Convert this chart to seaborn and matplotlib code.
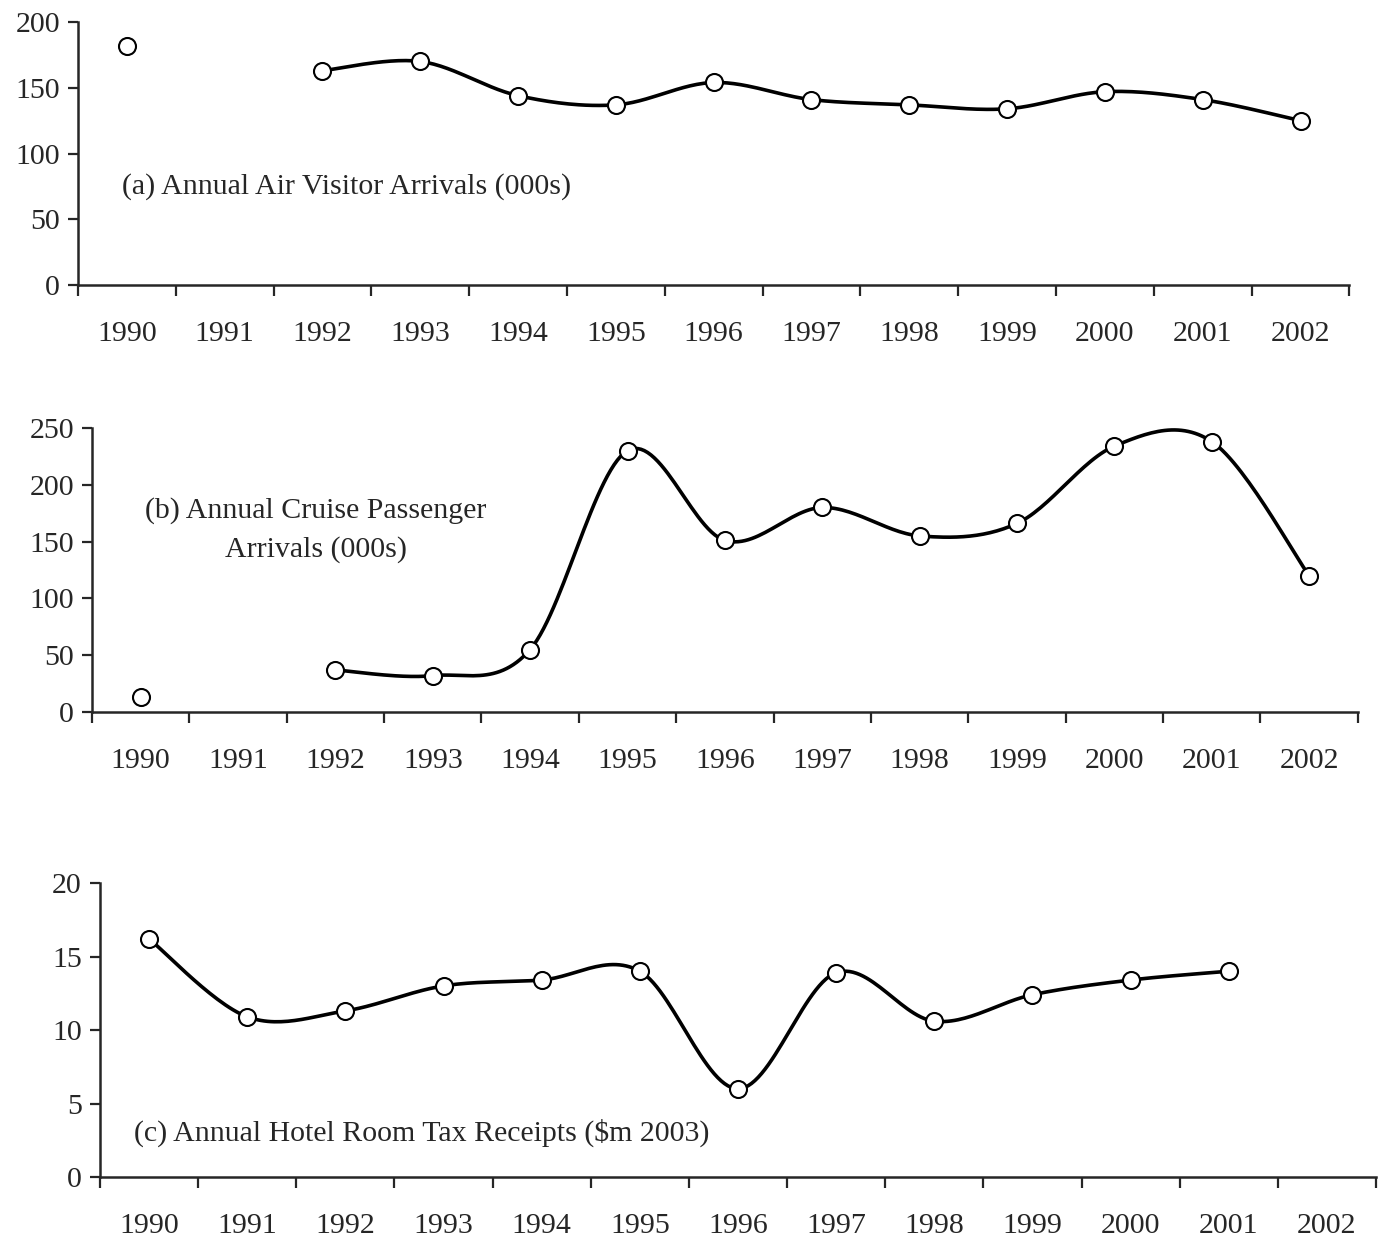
import numpy as np
import pandas as pd
import matplotlib
matplotlib.use("Agg")
import matplotlib.pyplot as plt
import seaborn as sns

# values (NaN = no point for that year)
years = [1990, 1991, 1992, 1993, 1994, 1995, 1996, 1997, 1998, 1999, 2000, 2001, 2002]
air_arrivals = [182, np.nan, 163, 170, 144, 137, 154, 141, 137, 134, 147, 141, 125]
cruise_arrivals = [13, np.nan, 37, 32, 55, 230, 151, 180, 155, 166, 234, 238, 120]
hotel_tax = [16.2, 10.9, 11.3, 13.0, 13.4, 14.0, 6.0, 13.9, 10.6, 12.4, 13.4, 14.0, np.nan]

labels = ["(a) Annual Air Visitor Arrivals (000s)",
          "(b) Annual Cruise Passenger\nArrivals (000s)",
          "(c) Annual Hotel Room Tax Receipts ($m 2003)"]

sns.set_style("ticks")
plt.rcParams['font.family'] = ['Liberation Serif', 'DejaVu Serif']
plt.rcParams['text.parse_math'] = False

FS = 21.5


def smooth(xs, ys, n=30):
    # excel-like smoothed line: bezier through points, catmull-rom control points
    px, py = [], []
    m = len(xs)
    for i in range(m - 1):
        x0, y0 = xs[max(i - 1, 0)], ys[max(i - 1, 0)]
        x1, y1 = xs[i], ys[i]
        x2, y2 = xs[i + 1], ys[i + 1]
        x3, y3 = xs[min(i + 2, m - 1)], ys[min(i + 2, m - 1)]
        c1x, c1y = x1 + (x2 - x0) / 6, y1 + (y2 - y0) / 6
        c2x, c2y = x2 - (x3 - x1) / 6, y2 - (y3 - y1) / 6
        t = np.linspace(0, 1, n)
        b0, b1, b2, b3 = (1 - t) ** 3, 3 * t * (1 - t) ** 2, 3 * t ** 2 * (1 - t), t ** 3
        px.extend(b0 * x1 + b1 * c1x + b2 * c2x + b3 * x2)
        py.extend(b0 * y1 + b1 * c1y + b2 * c2y + b3 * y2)
    return np.array(px), np.array(py)


fig = plt.figure(figsize=(13.85, 12.43), dpi=100)
axes = [fig.add_axes([0.0563, 0.7707, 0.918, 0.2116]),
        fig.add_axes([0.0664, 0.4272, 0.914, 0.2285]),
        fig.add_axes([0.0722, 0.0531, 0.9213, 0.2365])]

series = [air_arrivals, cruise_arrivals, hotel_tax]
ymax = [200, 250, 20]
ystep = [50, 50, 5]
# label anchor (category position, value, alignment)
text_pos = [(-0.05, 75, 'left'), (1.8, 160, 'center'), (-0.15, 3.0, 'left')]

for ax, vals, top, step, lab, tp in zip(axes, series, ymax, ystep, labels, text_pos):
    df = pd.DataFrame({"pos": np.arange(len(years)), "val": vals})
    # smooth line through consecutive (non-missing) runs of points
    ok = df["val"].notna().values
    runs, cur = [], []
    for i, flag in enumerate(ok):
        if flag:
            cur.append(i)
        else:
            if cur:
                runs.append(cur)
            cur = []
    if cur:
        runs.append(cur)
    for r in runs:
        if len(r) < 2:
            continue
        sx, sy = smooth(df["pos"].values[r].astype(float), df["val"].values[r])
        sns.lineplot(x=sx, y=sy, ax=ax, color="black", linewidth=2.6, sort=False,
                     estimator=None)
    sns.scatterplot(data=df.dropna(), x="pos", y="val", ax=ax, marker="o", s=150,
                    facecolor="white", edgecolor="black", linewidth=1.5, zorder=5)

    ax.set_xlim(-0.5, len(years) - 0.5)
    ax.set_ylim(0, top)
    ax.set_yticks(np.arange(0, top + step, step))
    ax.set_xticks(np.arange(len(years)))
    ax.set_xticklabels([str(y) for y in years])
    ax.set_xticks(np.arange(-0.5, len(years)), minor=True)
    ax.tick_params(axis='x', which='major', length=0, pad=26, labelsize=FS)
    ax.tick_params(axis='x', which='minor', length=8, width=1.6, direction='out')
    ax.tick_params(axis='y', length=7, width=1.6, pad=6, labelsize=FS)
    ax.set_xlabel("")
    ax.set_ylabel("")
    sns.despine(ax=ax)
    for s in ["left", "bottom"]:
        ax.spines[s].set_linewidth(1.8)
    ax.text(tp[0], tp[1], lab, ha=tp[2], va='center', fontsize=FS,
            multialignment='center', linespacing=1.6)

fig.savefig("out.png", dpi=100)
